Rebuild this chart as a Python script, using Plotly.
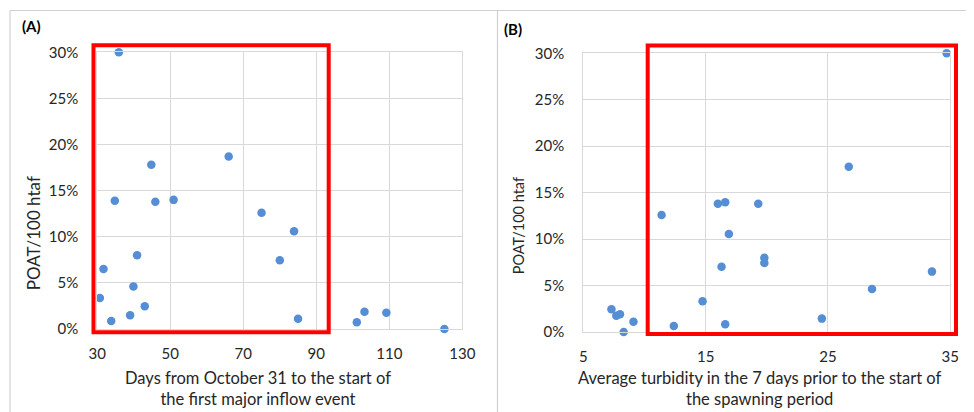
import plotly.graph_objects as go

# ---- data ----
days_a = [35.9, 44.8, 66.0, 34.8, 45.9, 50.9, 75.0, 83.9, 80.0, 40.9, 31.7,
          39.9, 30.7, 43.0, 39.0, 33.8, 85.0, 101.1, 103.2, 109.2, 125.1]
poat_a = [30.0, 17.8, 18.7, 13.9, 13.8, 14.0, 12.6, 10.6, 7.45, 8.0, 6.5,
          4.6, 3.36, 2.46, 1.48, 0.87, 1.12, 0.72, 1.88, 1.77, 0.0]

turb_b = [34.7, 26.7, 16.0, 16.6, 19.3, 11.4, 16.9, 19.8, 19.8, 16.3, 33.5,
          28.6, 14.75, 7.3, 7.7, 8.0, 9.1, 8.3, 12.4, 16.6, 24.5]
poat_b = [30.0, 17.8, 13.8, 13.96, 13.8, 12.6, 10.55, 8.0, 7.43, 7.03, 6.5,
          4.63, 3.3, 2.44, 1.76, 1.9, 1.11, 0.0, 0.65, 0.83, 1.44]

x_ticks_a = [30, 50, 70, 90, 110, 130]
x_ticks_b = [5, 15, 25, 35]
y_ticks = [0, 5, 10, 15, 20, 25, 30]
y_tick_labels = ["0%", "5%", "10%", "15%", "20%", "25%", "30%"]

# page body has an 8px margin, so the figure is offset by 8px
OFF = 8
W, H = 974 - OFF, 412 - OFF
def px(x):
    return (x - OFF) / W
def py(y):
    return 1 - (y - OFF) / H

FONT = "Lato, Carlito, 'Open Sans', sans-serif"
TXT = "#262626"
GRID = "#d9d9d9"
BLUE = "#558ED5"

fig = go.Figure()
fig.add_trace(go.Scatter(x=days_a, y=poat_a, mode="markers", xaxis="x", yaxis="y",
                         marker=dict(color=BLUE, size=8.5), cliponaxis=False, showlegend=False))
fig.add_trace(go.Scatter(x=turb_b, y=poat_b, mode="markers", xaxis="x2", yaxis="y2",
                         marker=dict(color=BLUE, size=8.5), cliponaxis=False, showlegend=False))

axis_common = dict(showgrid=True, gridcolor=GRID, gridwidth=1, showline=True, linecolor=GRID,
                   linewidth=1, mirror=True, zeroline=False, ticks="", automargin=False,
                   tickfont=dict(family=FONT, size=15, color=TXT))

fig.update_layout(
    width=W, height=H, margin=dict(l=0, r=0, t=0, b=0, autoexpand=False),
    paper_bgcolor="white", plot_bgcolor="white",
    xaxis=dict(domain=[px(97.3), px(462.3)], range=[30, 130], tickvals=x_ticks_a,
               anchor="y", ticklabelstandoff=11, **axis_common),
    yaxis=dict(domain=[py(329), py(52.3)], range=[0, 30], tickvals=y_ticks,
               ticktext=y_tick_labels, anchor="x", ticklabelstandoff=15, **axis_common),
    xaxis2=dict(domain=[px(583.3), px(950.3)], range=[5, 35], tickvals=x_ticks_b,
                anchor="y2", ticklabelstandoff=11, **axis_common),
    yaxis2=dict(domain=[py(332), py(53.3)], range=[0, 30], tickvals=y_ticks,
                ticktext=y_tick_labels, anchor="x2", ticklabelstandoff=15, **axis_common),
)

shapes = [
    # outer frame lines
    dict(type="line", xref="paper", yref="paper", x0=px(10), x1=1, y0=py(10.5), y1=py(10.5),
         line=dict(color="#d0d0d0", width=1.2)),
    dict(type="line", xref="paper", yref="paper", x0=px(10), x1=px(10), y0=py(10.5), y1=0,
         line=dict(color="#d0d0d0", width=1.2)),
    dict(type="line", xref="paper", yref="paper", x0=px(497.5), x1=px(497.5), y0=py(10.5), y1=0,
         line=dict(color="#d0d0d0", width=1.2)),
    # red highlight boxes
    dict(type="rect", xref="paper", yref="paper", x0=px(93.5), x1=px(328.7),
         y0=py(332.3), y1=py(45.3), line=dict(color="#FF0000", width=4)),
    dict(type="rect", xref="paper", yref="paper", x0=px(647.7), x1=px(956),
         y0=py(334), y1=py(45.5), line=dict(color="#FF0000", width=4)),
]
fig.update_layout(shapes=shapes)

ann = [
    dict(text="<b>(A)</b>", x=px(19.5), y=py(26), xanchor="left", yanchor="middle",
         font=dict(family=FONT, size=15, color="black")),
    dict(text="<b>(B)</b>", x=px(502), y=py(28.5), xanchor="left", yanchor="middle",
         font=dict(family=FONT, size=15, color="black")),
    dict(text="Days from October 31 to the start of<br>the first major inflow event",
         x=px(258.3), y=py(388), xanchor="center", yanchor="middle",
         font=dict(family=FONT, size=16.5, color=TXT)),
    dict(text="Average turbidity in the 7 days prior to the start of<br>the spawning period",
         x=px(759.7), y=py(388), xanchor="center", yanchor="middle",
         font=dict(family=FONT, size=16.5, color=TXT)),
    dict(text="POAT/100 htaf", x=px(33.3), y=py(233), textangle=-90,
         xanchor="center", yanchor="middle", font=dict(family=FONT, size=17, color=TXT)),
    dict(text="POAT/100 htaf", x=px(518.3), y=py(226), textangle=-90,
         xanchor="center", yanchor="middle", font=dict(family=FONT, size=14.5, color=TXT)),
]
for a in ann:
    a.update(xref="paper", yref="paper", showarrow=False)
fig.update_layout(annotations=ann)

fig.write_html("out.html")
